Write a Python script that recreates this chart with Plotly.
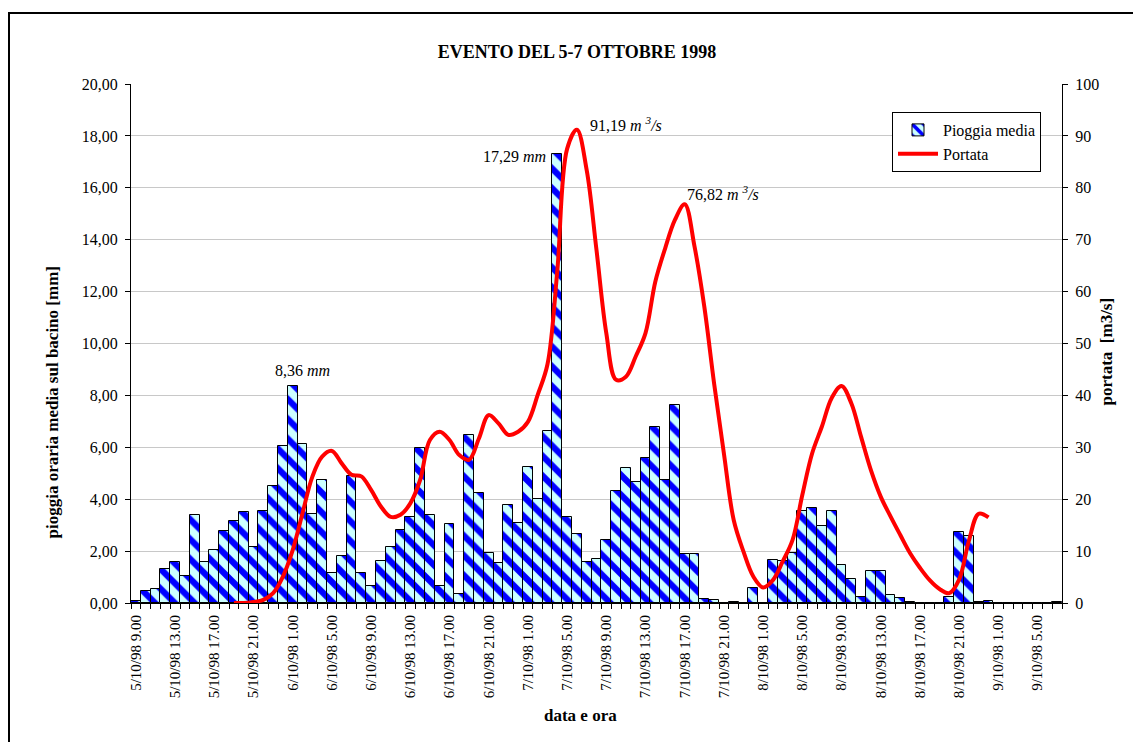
import plotly.graph_objects as go

# Hourly time axis: 5/10/98 9.00 -> 9/10/98 7.00 (95 hours)
n_ore = 95
tick_pos = list(range(0, 93, 4))
tick_labels = [
    "5/10/98 9.00", "5/10/98 13.00", "5/10/98 17.00", "5/10/98 21.00",
    "6/10/98 1.00", "6/10/98 5.00", "6/10/98 9.00", "6/10/98 13.00",
    "6/10/98 17.00", "6/10/98 21.00", "7/10/98 1.00", "7/10/98 5.00",
    "7/10/98 9.00", "7/10/98 13.00", "7/10/98 17.00", "7/10/98 21.00",
    "8/10/98 1.00", "8/10/98 5.00", "8/10/98 9.00", "8/10/98 13.00",
    "8/10/98 17.00", "8/10/98 21.00", "9/10/98 1.00", "9/10/98 5.00",
]

# Mean hourly rainfall over the basin [mm]
pioggia = [
    0.08, 0.48, 0.54, 1.31, 1.59, 1.03, 3.39, 1.59, 2.03, 2.76,
    3.16, 3.49, 2.16, 3.55, 4.51, 6.06, 8.36, 6.11, 3.43, 4.73,
    1.14, 1.81, 4.89, 1.14, 0.64, 1.61, 2.16, 2.83, 3.33, 5.97,
    3.39, 0.64, 3.06, 0.35, 6.46, 4.23, 1.94, 1.54, 3.78, 3.10,
    5.23, 4.00, 6.64, 17.29, 3.31, 2.67, 1.59, 1.70, 2.41, 4.33,
    5.22, 4.65, 5.60, 6.78, 4.73, 7.64, 1.88, 1.88, 0.17, 0.12,
    0.00, 0.03, 0.00, 0.57, 0.00, 1.65, 1.62, 1.91, 3.53, 3.66,
    2.98, 3.55, 1.46, 0.91, 0.23, 1.25, 1.25, 0.30, 0.18, 0.03,
    0.00, 0.00, 0.00, 0.24, 2.75, 2.59, 0.02, 0.09, 0.00, 0.00,
    0.00, 0.00, 0.00, 0.00, 0.03,
]

# Discharge [m3/s], recorded from hour 10 to hour 87
portata_inizio = 10
portata = [
    0.0, 0.0, 0.2, 0.6, 1.9, 5.1, 10.2, 17.3, 24.3, 28.2,
    29.3, 26.9, 24.7, 24.4, 21.8, 18.6, 16.6, 17.0, 19.2, 23.7,
    31.4, 33.0, 31.4, 28.5, 27.6, 31.7, 36.2, 34.6, 32.4, 33.0,
    34.9, 40.1, 46.0, 64.0, 87.5, 91.19, 83.4, 68.0, 52.0, 43.0,
    43.6, 47.5, 52.0, 61.9, 68.3, 73.8, 76.82, 68.7, 57.1, 42.3,
    28.8, 16.0, 9.9, 5.1, 3.0, 4.4, 8.0, 12.1, 20.8, 28.8,
    34.0, 39.5, 41.8, 38.5, 32.0, 25.6, 20.5, 16.7, 13.1, 9.6,
    6.8, 4.4, 2.7, 1.9, 4.5, 12.0, 17.2, 16.5,
]

y1_ticks = [0, 2, 4, 6, 8, 10, 12, 14, 16, 18, 20]
y1_labels = ["0,00", "2,00", "4,00", "6,00", "8,00", "10,00",
             "12,00", "14,00", "16,00", "18,00", "20,00"]
y2_ticks = [0, 10, 20, 30, 40, 50, 60, 70, 80, 90, 100]

FONT = "Liberation Serif, Times New Roman, DejaVu Serif, serif"
W, H = 1133, 742
L, R, T, B = 131, 71, 84, 139
pw, ph = W - L - R, H - T - B

x_bar = list(range(n_ore))
x_line = list(range(portata_inizio, portata_inizio + len(portata)))

fig = go.Figure()
fig.add_trace(go.Bar(
    x=x_bar, y=pioggia, name="Pioggia media", width=1,
    legendgroup="pioggia",
    marker=dict(
        color="#CCFFFF",
        line=dict(color="black", width=1),
        pattern=dict(shape="\\", bgcolor="#CCFFFF", fgcolor="#0000FF",
                     size=14, solidity=0.45, fillmode="replace"),
    ),
    yaxis="y",
))
fig.add_trace(go.Scatter(
    x=x_line, y=portata, name="Portata", mode="lines",
    legendgroup="portata",
    line=dict(color="#FF0000", width=4, shape="spline", smoothing=1.0),
    yaxis="y2",
))

def px_x(p):
    return (p - L) / pw

def px_y(p):
    return (H - B - p) / ph

fig.update_layout(
    width=W, height=H,
    margin=dict(l=L, r=R, t=T, b=B, autoexpand=False),
    paper_bgcolor="white", plot_bgcolor="white",
    font=dict(family=FONT, size=16, color="black"),
    bargap=0,
    showlegend=True,
    title=dict(text="<b>EVENTO DEL 5-7 OTTOBRE 1998</b>",
               font=dict(family=FONT, size=18, color="black"),
               xref="paper", x=px_x(577), xanchor="center",
               yref="container", y=1 - 52 / H, yanchor="middle"),
    legend=dict(x=px_x(892), y=px_y(112), xanchor="left", yanchor="top",
                bgcolor="white", bordercolor="black", borderwidth=1,
                font=dict(family=FONT, size=16), itemwidth=40,
                tracegroupgap=0),
    xaxis=dict(
        range=[-0.5, n_ore - 0.5], tickmode="array",
        tickvals=tick_pos, ticktext=tick_labels, tickangle=-90,
        ticks="outside", ticklen=5, tickcolor="rgba(0,0,0,0)",
        minor=dict(tickmode="linear", tick0=-0.5, dtick=1, ticks="outside",
                   ticklen=5, tickcolor="black", tickwidth=1, showgrid=False),
        showline=True, linecolor="black", linewidth=1,
        showgrid=False, zeroline=False,
        tickfont=dict(family=FONT, size=15),
    ),
    yaxis=dict(
        range=[0, 20], tickmode="array", tickvals=y1_ticks, ticktext=y1_labels,
        ticks="outside", ticklen=5, tickcolor="black", ticklabelstandoff=4,
        showline=True, linecolor="black", linewidth=1,
        showgrid=True, gridcolor="#C8C8C8", gridwidth=1, zeroline=False,
        tickfont=dict(family=FONT, size=16),
    ),
    yaxis2=dict(
        range=[0, 100], tickmode="array", tickvals=y2_ticks,
        overlaying="y", side="right", anchor="x",
        ticks="outside", ticklen=5, tickcolor="black", ticklabelstandoff=4,
        showline=True, linecolor="black", linewidth=1,
        showgrid=False, zeroline=False,
        tickfont=dict(family=FONT, size=16),
    ),
)

# outer chart frame
fig.add_shape(type="rect", xref="paper", yref="paper",
              x0=px_x(9), x1=px_x(1145), y0=px_y(760), y1=px_y(13),
              line=dict(color="black", width=2), fillcolor="rgba(0,0,0,0)",
              layer="below")

title_font = dict(family=FONT, size=17, color="black")
ann_font = dict(family=FONT, size=16, color="black")
# axis titles
fig.add_annotation(text="<b>pioggia oraria media sul bacino [mm]</b>",
                   xref="paper", yref="paper", x=px_x(40), y=px_y(403),
                   textangle=-90, showarrow=False, font=title_font)
fig.add_annotation(text="<b>portata  [m3/s]</b>",
                   xref="paper", yref="paper", x=px_x(1117), y=px_y(352),
                   textangle=-90, showarrow=False, font=title_font)
fig.add_annotation(text="<b>data e ora</b>",
                   xref="paper", yref="paper", x=px_x(580), y=px_y(727),
                   showarrow=False, font=title_font)

# value labels
i_p1 = 16
fig.add_annotation(x=i_p1, y=pioggia[i_p1], xref="x", yref="y",
                   text="8,36 <i>mm</i>", showarrow=False,
                   yanchor="bottom", yshift=5, xshift=10, font=ann_font)
i_p2 = 43
fig.add_annotation(x=i_p2 - 0.5, y=pioggia[i_p2], xref="x", yref="y",
                   text="17,29 <i>mm</i>", showarrow=False,
                   xanchor="right", xshift=-4, yanchor="middle", yshift=-2,
                   font=ann_font)
i_q1 = 45 - portata_inizio
fig.add_annotation(x=x_line[i_q1], y=portata[i_q1], xref="x", yref="y2",
                   text="91,19 <i>m <sup>3</sup>/s</i>", showarrow=False,
                   xanchor="left", xshift=11, yanchor="middle", yshift=6,
                   font=ann_font)
i_q2 = 56 - portata_inizio
fig.add_annotation(x=x_line[i_q2], y=portata[i_q2], xref="x", yref="y2",
                   text="76,82 <i>m <sup>3</sup>/s</i>", showarrow=False,
                   xanchor="left", xshift=0, yanchor="middle", yshift=11,
                   font=ann_font)

fig.write_html("out.html")
